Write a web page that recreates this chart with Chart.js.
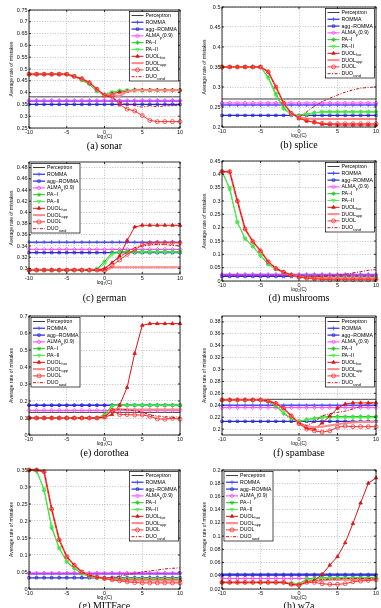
<!DOCTYPE html>
<html>
<head>
<meta charset="utf-8">
<script src="https://cdn.jsdelivr.net/npm/chart.js@4.4.1/dist/chart.umd.min.js"></script>
<style>
html, body { margin: 0; padding: 0; background: #fff; }
body { width: 381px; height: 608px; position: relative; overflow: hidden; }
canvas { position: absolute; }
.cap { position: absolute; font-family: 'Liberation Serif', 'Times New Roman', serif; font-size: 10px; color: #000;
       white-space: nowrap; transform: translate(-50%, -50%); }
</style>
</head>
<body>
<script>
// ---- x positions (log2 C) and tick labels ----
const logC = [-10,-9,-8,-7,-6,-5,-4,-3,-2,-1,0,1,2,3,4,5,6,7,8,9,10];
const xTicks = [-10,-5,0,5,10];

const seriesNames = ['Perceptron','ROMMA','agg\u2212ROMMA','ALMA','PA\u2212I','PA\u2212II','DUOL','DUOL','DUOL','DUO'];
const seriesSubs  = ['','','','p','','','hor','app','','rand'];
const seriesTail  = ['','','','(0.9)','','','','','',''];

// ---- (a) sonar ----
const sonarTicks = [0.25,0.3,0.35,0.4,0.45,0.5,0.55,0.6,0.65,0.7,0.75];
const sonarPerceptron = [0.382,0.382,0.382,0.382,0.382,0.382,0.382,0.382,0.382,0.382,0.382,0.382,0.382,0.382,0.382,0.382,0.382,0.382,0.382,0.382,0.382];
const sonarRomma      = [0.364,0.364,0.364,0.364,0.364,0.364,0.364,0.364,0.364,0.364,0.364,0.364,0.364,0.364,0.364,0.364,0.364,0.364,0.364,0.364,0.364];
const sonarAggRomma   = [0.350,0.350,0.350,0.350,0.350,0.350,0.350,0.350,0.350,0.350,0.350,0.350,0.350,0.350,0.350,0.350,0.350,0.350,0.350,0.350,0.350];
const sonarAlma       = [0.367,0.367,0.367,0.367,0.367,0.367,0.367,0.367,0.367,0.367,0.367,0.367,0.367,0.367,0.367,0.367,0.367,0.367,0.367,0.367,0.367];
const sonarPA1  = [0.478,0.478,0.478,0.478,0.478,0.478,0.470,0.452,0.435,0.405,0.392,0.402,0.408,0.410,0.410,0.410,0.410,0.410,0.410,0.410,0.410];
const sonarPA2  = [0.478,0.478,0.478,0.478,0.478,0.478,0.472,0.455,0.438,0.408,0.392,0.400,0.407,0.410,0.410,0.410,0.410,0.410,0.410,0.410,0.410];
const sonarHor  = [0.478,0.478,0.478,0.478,0.478,0.478,0.468,0.460,0.443,0.415,0.388,0.395,0.402,0.405,0.412,0.411,0.411,0.411,0.411,0.411,0.411];
const sonarApp  = [0.478,0.478,0.478,0.478,0.478,0.478,0.468,0.458,0.442,0.414,0.388,0.392,0.385,0.405,0.410,0.410,0.410,0.410,0.410,0.410,0.410];
const sonarDuol = [0.478,0.478,0.478,0.478,0.478,0.478,0.468,0.458,0.442,0.414,0.388,0.385,0.350,0.330,0.322,0.303,0.282,0.277,0.277,0.277,0.277];
const sonarRand = [0.478,0.478,0.478,0.478,0.478,0.478,0.468,0.458,0.442,0.414,0.388,0.378,0.360,0.350,0.345,0.338,0.345,0.340,0.344,0.345,0.345];

// ---- (b) splice ----
const spliceTicks = [0.2,0.25,0.3,0.35,0.4,0.45,0.5];
const splicePerceptron = [0.270,0.270,0.270,0.270,0.270,0.270,0.270,0.270,0.270,0.270,0.270,0.270,0.270,0.270,0.270,0.270,0.270,0.270,0.270,0.270,0.270];
const spliceRomma      = [0.255,0.255,0.255,0.255,0.255,0.255,0.255,0.255,0.255,0.255,0.255,0.255,0.255,0.255,0.255,0.255,0.255,0.255,0.255,0.255,0.255];
const spliceAggRomma   = [0.229,0.229,0.229,0.229,0.229,0.229,0.229,0.229,0.229,0.229,0.229,0.229,0.229,0.229,0.229,0.229,0.229,0.229,0.229,0.229,0.229];
const spliceAlma       = [0.260,0.260,0.260,0.260,0.260,0.260,0.260,0.260,0.260,0.260,0.260,0.260,0.260,0.260,0.260,0.260,0.260,0.260,0.260,0.260,0.260];
const splicePA1  = [0.350,0.350,0.350,0.350,0.350,0.350,0.325,0.283,0.248,0.232,0.228,0.232,0.236,0.238,0.238,0.238,0.238,0.238,0.238,0.238,0.238];
const splicePA2  = [0.350,0.350,0.350,0.350,0.350,0.350,0.322,0.278,0.245,0.230,0.228,0.231,0.235,0.237,0.237,0.237,0.237,0.237,0.237,0.237,0.237];
const spliceHor  = [0.350,0.350,0.350,0.350,0.350,0.350,0.338,0.300,0.260,0.234,0.222,0.215,0.212,0.207,0.206,0.205,0.205,0.205,0.205,0.205,0.205];
const spliceApp  = [0.350,0.350,0.350,0.350,0.350,0.350,0.338,0.300,0.260,0.234,0.224,0.221,0.220,0.220,0.220,0.220,0.220,0.220,0.220,0.220,0.220];
const spliceDuol = [0.350,0.350,0.350,0.350,0.350,0.350,0.338,0.300,0.260,0.234,0.222,0.216,0.212,0.209,0.208,0.208,0.208,0.208,0.208,0.208,0.208];
const spliceRand = [0.350,0.350,0.350,0.350,0.350,0.350,0.338,0.300,0.260,0.234,0.225,0.238,0.252,0.263,0.272,0.280,0.287,0.293,0.297,0.299,0.300];

// ---- (c) german ----
const germanTicks = [0.3,0.32,0.34,0.36,0.38,0.4,0.42,0.44,0.46,0.48];
const germanPerceptron = [0.346,0.346,0.346,0.346,0.346,0.346,0.346,0.346,0.346,0.346,0.346,0.346,0.346,0.346,0.346,0.346,0.346,0.346,0.346,0.346,0.346];
const germanRomma      = [0.347,0.347,0.347,0.347,0.347,0.347,0.347,0.347,0.347,0.347,0.347,0.347,0.347,0.347,0.347,0.347,0.347,0.347,0.347,0.347,0.347];
const germanAggRomma   = [0.328,0.328,0.328,0.328,0.328,0.328,0.328,0.328,0.328,0.328,0.328,0.328,0.328,0.328,0.328,0.328,0.328,0.328,0.328,0.328,0.328];
const germanAlma       = [0.334,0.334,0.334,0.334,0.334,0.334,0.334,0.334,0.334,0.334,0.334,0.334,0.334,0.334,0.334,0.334,0.334,0.334,0.334,0.334,0.334];
const germanPA1  = [0.297,0.297,0.297,0.297,0.297,0.297,0.297,0.297,0.297,0.299,0.312,0.328,0.330,0.330,0.330,0.330,0.330,0.330,0.330,0.330,0.330];
const germanPA2  = [0.297,0.297,0.297,0.297,0.297,0.297,0.297,0.297,0.297,0.298,0.308,0.325,0.329,0.329,0.329,0.329,0.329,0.329,0.329,0.329,0.329];
const germanHor  = [0.297,0.297,0.297,0.297,0.297,0.297,0.297,0.297,0.297,0.297,0.300,0.310,0.322,0.350,0.374,0.377,0.377,0.377,0.377,0.377,0.377];
const germanApp  = [0.297,0.297,0.297,0.297,0.297,0.297,0.297,0.297,0.297,0.297,0.295,0.302,0.302,0.302,0.302,0.302,0.302,0.302,0.302,0.302,0.302];
const germanDuol = [0.297,0.297,0.297,0.297,0.297,0.297,0.297,0.297,0.297,0.297,0.296,0.305,0.315,0.325,0.333,0.342,0.345,0.346,0.346,0.346,0.346];
const germanRand = [0.297,0.297,0.297,0.297,0.297,0.297,0.297,0.297,0.297,0.297,0.298,0.310,0.320,0.330,0.337,0.340,0.342,0.343,0.343,0.341,0.340];

// ---- (d) mushrooms ----
const mushTicks = [0,0.05,0.1,0.15,0.2,0.25,0.3,0.35,0.4,0.45];
const mushPerceptron = [0.020,0.020,0.020,0.020,0.020,0.020,0.020,0.020,0.020,0.020,0.020,0.020,0.020,0.020,0.020,0.020,0.020,0.020,0.020,0.020,0.020];
const mushRomma      = [0.025,0.025,0.025,0.025,0.025,0.025,0.025,0.025,0.025,0.025,0.025,0.025,0.025,0.025,0.025,0.025,0.025,0.025,0.025,0.025,0.025];
const mushAggRomma   = [0.017,0.017,0.017,0.017,0.017,0.017,0.017,0.017,0.017,0.017,0.017,0.017,0.017,0.017,0.017,0.017,0.017,0.017,0.017,0.017,0.017];
const mushAlma       = [0.023,0.023,0.023,0.023,0.023,0.023,0.023,0.023,0.023,0.023,0.023,0.023,0.023,0.023,0.023,0.023,0.023,0.023,0.023,0.023,0.023];
const mushPA1  = [0.410,0.345,0.220,0.158,0.130,0.095,0.062,0.044,0.032,0.022,0.016,0.014,0.013,0.013,0.013,0.013,0.013,0.013,0.013,0.013,0.013];
const mushPA2  = [0.410,0.350,0.222,0.160,0.132,0.097,0.064,0.045,0.033,0.023,0.016,0.015,0.014,0.014,0.014,0.014,0.014,0.014,0.014,0.014,0.014];
const mushHor  = [0.410,0.410,0.300,0.195,0.148,0.113,0.072,0.047,0.033,0.022,0.015,0.012,0.010,0.010,0.010,0.010,0.010,0.010,0.010,0.010,0.010];
const mushApp  = [0.410,0.410,0.300,0.195,0.148,0.113,0.072,0.047,0.033,0.022,0.015,0.013,0.012,0.012,0.012,0.012,0.012,0.012,0.012,0.012,0.012];
const mushDuol = [0.410,0.410,0.300,0.195,0.148,0.113,0.072,0.047,0.033,0.022,0.015,0.011,0.008,0.006,0.005,0.005,0.005,0.005,0.005,0.005,0.005];
const mushRand = [0.410,0.410,0.300,0.195,0.148,0.113,0.072,0.047,0.033,0.022,0.015,0.015,0.016,0.018,0.020,0.022,0.025,0.030,0.035,0.040,0.042];

// ---- (e) dorothea ----
const doroTicks = [0,0.1,0.2,0.3,0.4,0.5,0.6,0.7];
const doroPerceptron = [0.133,0.133,0.133,0.133,0.133,0.133,0.133,0.133,0.133,0.133,0.133,0.133,0.133,0.133,0.133,0.133,0.133,0.133,0.133,0.133,0.133];
const doroRomma      = [0.175,0.175,0.175,0.175,0.175,0.175,0.175,0.175,0.175,0.175,0.175,0.175,0.175,0.175,0.175,0.175,0.175,0.175,0.175,0.175,0.175];
const doroAggRomma   = [0.175,0.175,0.175,0.175,0.175,0.175,0.175,0.175,0.175,0.175,0.175,0.175,0.175,0.175,0.175,0.175,0.175,0.175,0.175,0.175,0.175];
const doroAlma       = [0.145,0.145,0.145,0.145,0.145,0.145,0.145,0.145,0.145,0.145,0.145,0.145,0.145,0.145,0.145,0.145,0.145,0.145,0.145,0.145,0.145];
const doroPA1  = [0.100,0.100,0.100,0.100,0.100,0.100,0.100,0.100,0.100,0.100,0.120,0.175,0.175,0.175,0.175,0.175,0.175,0.175,0.175,0.175,0.175];
const doroPA2  = [0.100,0.100,0.100,0.100,0.100,0.100,0.100,0.100,0.100,0.100,0.115,0.170,0.175,0.175,0.175,0.175,0.175,0.175,0.175,0.175,0.175];
const doroHor  = [0.100,0.100,0.100,0.100,0.100,0.100,0.100,0.100,0.100,0.100,0.105,0.120,0.175,0.280,0.480,0.645,0.655,0.655,0.655,0.655,0.655];
const doroApp  = [0.100,0.100,0.100,0.100,0.100,0.100,0.100,0.100,0.100,0.100,0.105,0.150,0.152,0.150,0.150,0.150,0.150,0.150,0.150,0.150,0.150];
const doroDuol = [0.100,0.100,0.100,0.100,0.100,0.100,0.100,0.100,0.100,0.100,0.105,0.145,0.120,0.120,0.118,0.118,0.110,0.095,0.093,0.098,0.093];
const doroRand = [0.100,0.100,0.100,0.100,0.100,0.100,0.100,0.100,0.100,0.100,0.105,0.150,0.152,0.148,0.143,0.135,0.118,0.112,0.108,0.102,0.108];

// ---- (f) spambase ----
const spamTicks = [0.2,0.22,0.24,0.26,0.28,0.3,0.32,0.34,0.36,0.38];
const spamPerceptron = [0.250,0.250,0.250,0.250,0.250,0.250,0.250,0.250,0.250,0.250,0.250,0.250,0.250,0.250,0.250,0.250,0.250,0.250,0.250,0.250,0.250];
const spamRomma      = [0.240,0.240,0.240,0.240,0.240,0.240,0.240,0.240,0.240,0.240,0.240,0.240,0.240,0.240,0.240,0.240,0.240,0.240,0.240,0.240,0.240];
const spamAggRomma   = [0.213,0.213,0.213,0.213,0.213,0.213,0.213,0.213,0.213,0.213,0.213,0.213,0.213,0.213,0.213,0.213,0.213,0.213,0.213,0.213,0.213];
const spamAlma       = [0.236,0.236,0.236,0.236,0.236,0.236,0.236,0.236,0.236,0.236,0.236,0.236,0.236,0.236,0.236,0.236,0.236,0.236,0.236,0.236,0.236];
const spamPA1  = [0.248,0.248,0.248,0.248,0.248,0.248,0.246,0.238,0.226,0.217,0.213,0.216,0.218,0.220,0.221,0.221,0.221,0.221,0.221,0.221,0.221];
const spamPA2  = [0.248,0.248,0.248,0.248,0.248,0.248,0.247,0.240,0.228,0.218,0.213,0.215,0.217,0.219,0.219,0.219,0.219,0.219,0.219,0.219,0.219];
const spamHor  = [0.249,0.249,0.249,0.249,0.249,0.249,0.247,0.243,0.235,0.222,0.210,0.202,0.200,0.210,0.222,0.235,0.242,0.244,0.244,0.244,0.244];
const spamApp  = [0.249,0.249,0.249,0.249,0.249,0.249,0.247,0.243,0.235,0.222,0.210,0.205,0.203,0.204,0.206,0.208,0.210,0.211,0.212,0.212,0.212];
const spamDuol = [0.249,0.249,0.249,0.249,0.249,0.249,0.247,0.243,0.235,0.222,0.209,0.200,0.197,0.195,0.197,0.203,0.205,0.204,0.204,0.204,0.204];
const spamRand = [0.249,0.249,0.249,0.249,0.249,0.249,0.247,0.243,0.235,0.222,0.210,0.206,0.212,0.222,0.226,0.228,0.230,0.234,0.238,0.242,0.246];

// ---- (g) MITFace ----
const mitTicks = [0,0.05,0.1,0.15,0.2,0.25,0.3,0.35];
const mitPerceptron = [0.045,0.045,0.045,0.045,0.045,0.045,0.045,0.045,0.045,0.045,0.045,0.045,0.045,0.045,0.045,0.045,0.045,0.045,0.045,0.045,0.045];
const mitRomma      = [0.045,0.045,0.045,0.045,0.045,0.045,0.045,0.045,0.045,0.045,0.045,0.045,0.045,0.045,0.045,0.045,0.045,0.045,0.045,0.045,0.045];
const mitAggRomma   = [0.033,0.033,0.033,0.033,0.033,0.033,0.033,0.033,0.033,0.033,0.033,0.033,0.033,0.033,0.033,0.033,0.033,0.033,0.033,0.033,0.033];
const mitAlma       = [0.047,0.047,0.047,0.047,0.047,0.047,0.047,0.047,0.047,0.047,0.047,0.047,0.047,0.047,0.047,0.047,0.047,0.047,0.047,0.047,0.047];
const mitPA1  = [0.350,0.350,0.290,0.180,0.120,0.080,0.060,0.045,0.036,0.033,0.030,0.030,0.030,0.030,0.030,0.030,0.030,0.030,0.030,0.030,0.030];
const mitPA2  = [0.350,0.345,0.295,0.185,0.122,0.082,0.062,0.046,0.036,0.033,0.031,0.031,0.031,0.031,0.031,0.031,0.031,0.031,0.031,0.031,0.031];
const mitHor  = [0.350,0.350,0.345,0.235,0.145,0.095,0.070,0.050,0.040,0.035,0.032,0.030,0.028,0.027,0.027,0.027,0.027,0.027,0.027,0.027,0.027];
const mitApp  = [0.350,0.350,0.345,0.235,0.145,0.095,0.070,0.050,0.040,0.035,0.032,0.028,0.026,0.025,0.025,0.025,0.025,0.025,0.025,0.025,0.025];
const mitDuol = [0.350,0.350,0.345,0.235,0.145,0.095,0.070,0.050,0.040,0.035,0.031,0.027,0.024,0.021,0.019,0.018,0.018,0.018,0.018,0.018,0.018];
const mitRand = [0.350,0.350,0.345,0.235,0.145,0.095,0.070,0.050,0.040,0.035,0.032,0.034,0.038,0.042,0.046,0.050,0.053,0.056,0.059,0.061,0.062];

// ---- (h) w7a ----
const w7aTicks = [0.02,0.04,0.06,0.08,0.1,0.12,0.14,0.16,0.18,0.2];
const w7aPerceptron = [0.0425,0.0425,0.0425,0.0425,0.0425,0.0425,0.0425,0.0425,0.0425,0.0425,0.0425,0.0425,0.0425,0.0425,0.0425,0.0425,0.0425,0.0425,0.0425,0.0425,0.0425];
const w7aRomma      = [0.042,0.042,0.042,0.042,0.042,0.042,0.042,0.042,0.042,0.042,0.042,0.042,0.042,0.042,0.042,0.042,0.042,0.042,0.042,0.042,0.042];
const w7aAggRomma   = [0.041,0.041,0.041,0.041,0.041,0.041,0.041,0.041,0.041,0.041,0.041,0.041,0.041,0.041,0.041,0.041,0.041,0.041,0.041,0.041,0.041];
const w7aAlma       = [0.036,0.036,0.036,0.036,0.036,0.036,0.036,0.036,0.036,0.036,0.036,0.036,0.036,0.036,0.036,0.036,0.036,0.036,0.036,0.036,0.036];
const w7aPA1  = [0.030,0.030,0.030,0.030,0.030,0.030,0.030,0.030,0.030,0.029,0.028,0.035,0.036,0.037,0.037,0.037,0.037,0.037,0.037,0.037,0.037];
const w7aPA2  = [0.030,0.030,0.030,0.030,0.030,0.030,0.030,0.030,0.030,0.029,0.027,0.034,0.035,0.036,0.036,0.036,0.036,0.036,0.036,0.036,0.036];
const w7aHor  = [0.030,0.030,0.030,0.030,0.030,0.030,0.030,0.030,0.030,0.027,0.026,0.031,0.033,0.042,0.056,0.069,0.090,0.119,0.150,0.180,0.188];
const w7aApp  = [0.030,0.030,0.030,0.030,0.030,0.030,0.030,0.030,0.030,0.027,0.026,0.030,0.032,0.033,0.034,0.034,0.034,0.034,0.034,0.034,0.034];
const w7aDuol = [0.030,0.030,0.030,0.030,0.030,0.030,0.030,0.030,0.030,0.027,0.026,0.030,0.030,0.028,0.027,0.027,0.028,0.031,0.032,0.033,0.034];
const w7aRand = [0.030,0.030,0.030,0.030,0.030,0.030,0.030,0.030,0.030,0.027,0.026,0.031,0.033,0.034,0.035,0.035,0.036,0.036,0.036,0.036,0.036];

// line / marker look of each series (same order as seriesNames)
const seriesStyle = [
  { color: '#3c3c3c', width: 1,   point: false },
  { color: '#4a4aff', width: 1.4, point: 'cross', r: 2 },
  { color: '#2727d6', width: 1.2, point: 'rect', r: 1.7 },
  { color: '#ff3cff', width: 1,   point: 'rectRot', r: 2 },
  { color: '#1ec81e', width: 1,   point: 'star', r: 2.2 },
  { color: '#4cf04c', width: 1,   point: 'triangle', rot: 180, r: 2 },
  { color: '#dc1414', width: 1,   point: 'triangle', r: 2, fill: true },
  { color: '#ff8a8a', width: 2,   point: 'crossRot', r: 1.5 },
  { color: '#ff3030', width: 1,   point: 'circle', r: 2 },
  { color: '#d01010', width: 1,   point: false, dash: [3, 1.5, 1, 1.5] }
];

const panels = [
  { cap: '(a) sonar',     box: [29, 10, 180, 128],  capY: 144.5, yMin: 0.25, yMax: 0.75, ticks: sonarTicks,  legend: 'ne',
    series: [sonarPerceptron, sonarRomma, sonarAggRomma, sonarAlma, sonarPA1, sonarPA2, sonarHor, sonarApp, sonarDuol, sonarRand] },
  { cap: '(b) splice',    box: [222, 7, 376, 127],  capY: 144,   yMin: 0.2,  yMax: 0.5,  ticks: spliceTicks, legend: 'ne',
    series: [splicePerceptron, spliceRomma, spliceAggRomma, spliceAlma, splicePA1, splicePA2, spliceHor, spliceApp, spliceDuol, spliceRand] },
  { cap: '(c) german',    box: [29, 162, 180, 274], capY: 296.5, yMin: 0.29, yMax: 0.49, ticks: germanTicks, legend: 'nw',
    series: [germanPerceptron, germanRomma, germanAggRomma, germanAlma, germanPA1, germanPA2, germanHor, germanApp, germanDuol, germanRand] },
  { cap: '(d) mushrooms', box: [222, 161, 376, 281], capY: 296.5, yMin: 0, yMax: 0.45, ticks: mushTicks, legend: 'ne',
    series: [mushPerceptron, mushRomma, mushAggRomma, mushAlma, mushPA1, mushPA2, mushHor, mushApp, mushDuol, mushRand] },
  { cap: '(e) dorothea',  box: [29, 316, 180, 435], capY: 452, yMin: 0, yMax: 0.7, ticks: doroTicks, legend: 'nw',
    series: [doroPerceptron, doroRomma, doroAggRomma, doroAlma, doroPA1, doroPA2, doroHor, doroApp, doroDuol, doroRand] },
  { cap: '(f) spambase',  box: [222, 316, 376, 435], capY: 452, yMin: 0.19, yMax: 0.39, ticks: spamTicks, legend: 'ne',
    series: [spamPerceptron, spamRomma, spamAggRomma, spamAlma, spamPA1, spamPA2, spamHor, spamApp, spamDuol, spamRand] },
  { cap: '(g) MITFace',   box: [29, 470, 180, 589], capY: 604.5, yMin: 0, yMax: 0.35, ticks: mitTicks, legend: 'ne',
    series: [mitPerceptron, mitRomma, mitAggRomma, mitAlma, mitPA1, mitPA2, mitHor, mitApp, mitDuol, mitRand] },
  { cap: '(h) w7a',       box: [222, 470, 376, 589], capY: 604.5, yMin: 0.02, yMax: 0.2, ticks: w7aTicks, legend: 'nw',
    series: [w7aPerceptron, w7aRomma, w7aAggRomma, w7aAlma, w7aPA1, w7aPA2, w7aHor, w7aApp, w7aDuol, w7aRand] }
];

const YW = 20, XH = 12, PT = 6, PR = 6;
const tickFont = { family: "'Liberation Sans', Arial, sans-serif", size: 5.5 };
const fmt = v => String(+(+v).toFixed(4));

function drawMarker(ctx, st, x, y){
  if (!st.point) return;
  ctx.save();
  ctx.setLineDash([]);
  ctx.lineWidth = 0.8;
  ctx.strokeStyle = st.color;
  ctx.fillStyle = st.fill ? st.color : 'rgba(0,0,0,0)';
  if (Chart.helpers && Chart.helpers.drawPoint){
    Chart.helpers.drawPoint(ctx, { pointStyle: st.point, rotation: st.rot || 0, radius: st.r, borderWidth: 0.8 }, x, y);
  } else {
    ctx.beginPath(); ctx.arc(x, y, st.r, 0, Math.PI * 2); ctx.fill(); ctx.stroke();
  }
  ctx.restore();
}

// black box round the plot area, with small inward ticks like the original
const framePlugin = {
  id: 'frame',
  afterDatasetsDraw(chart){
    const { ctx, chartArea: a, scales } = chart;
    ctx.save();
    ctx.strokeStyle = '#000';
    ctx.lineWidth = 0.8;
    ctx.setLineDash([]);
    ctx.beginPath();
    scales.x.ticks.forEach(t => {
      const px = scales.x.getPixelForValue(t.value);
      ctx.moveTo(px, a.bottom); ctx.lineTo(px, a.bottom - 2);
      ctx.moveTo(px, a.top); ctx.lineTo(px, a.top + 2);
    });
    scales.y.ticks.forEach(t => {
      const py = scales.y.getPixelForValue(t.value);
      ctx.moveTo(a.left, py); ctx.lineTo(a.left + 2, py);
      ctx.moveTo(a.right, py); ctx.lineTo(a.right - 2, py);
    });
    ctx.stroke();
    ctx.strokeRect(a.left, a.top, a.right - a.left, a.bottom - a.top);
    ctx.restore();
  }
};

// MATLAB-style legend box inside the axes
const boxLegend = {
  id: 'boxLegend',
  afterDraw(chart, args, opts){
    const { ctx, chartArea: a } = chart;
    const w = 49, rowH = 6.8, h = rowH * 10 + 1.5;
    const x0 = opts.corner === 'nw' ? a.left + 2 : a.right - w - 1.5;
    const y0 = a.top + 1.5;
    ctx.save();
    ctx.fillStyle = '#fff';
    ctx.fillRect(x0, y0, w, h);
    ctx.strokeStyle = '#000';
    ctx.lineWidth = 0.7;
    ctx.strokeRect(x0, y0, w, h);
    seriesStyle.forEach((st, i) => {
      const y = y0 + 4 + i * rowH;
      ctx.strokeStyle = st.color;
      ctx.lineWidth = st.width;
      ctx.setLineDash(st.dash || []);
      ctx.beginPath(); ctx.moveTo(x0 + 2, y); ctx.lineTo(x0 + 14, y); ctx.stroke();
      drawMarker(ctx, st, x0 + 8, y);
      ctx.setLineDash([]);
      ctx.fillStyle = '#000';
      ctx.textBaseline = 'middle';
      ctx.font = "5.2px 'Liberation Sans', Arial, sans-serif";
      let tx = x0 + 16;
      ctx.fillText(seriesNames[i], tx, y);
      tx += ctx.measureText(seriesNames[i]).width;
      if (seriesSubs[i]){
        ctx.font = "3.8px 'Liberation Sans', Arial, sans-serif";
        ctx.fillText(seriesSubs[i], tx + 0.2, y + 1.8);
        tx += ctx.measureText(seriesSubs[i]).width + 0.4;
        ctx.font = "5.2px 'Liberation Sans', Arial, sans-serif";
      }
      if (seriesTail[i]) ctx.fillText(seriesTail[i], tx, y);
    });
    ctx.restore();
  }
};

function makeDataset(ys, i){
  const st = seriesStyle[i];
  return {
    label: seriesNames[i] + seriesSubs[i],
    data: logC.map((x, j) => ({ x: x, y: ys[j] })),
    borderColor: st.color,
    borderWidth: st.width,
    borderDash: st.dash || [],
    pointStyle: st.point || 'circle',
    pointRadius: st.point ? st.r : 0,
    pointRotation: st.rot || 0,
    pointBorderWidth: 0.8,
    pointBorderColor: st.color,
    pointBackgroundColor: st.fill ? st.color : 'rgba(0,0,0,0)',
    tension: 0,
    fill: false,
    clip: 4,
    order: -i
  };
}

function makePanel(p){
  const [l, t, r, b] = p.box;
  const w = r - l + YW + PR, h = b - t + PT + XH;
  const cv = document.createElement('canvas');
  cv.width = w; cv.height = h;
  cv.style.left = (l - YW) + 'px';
  cv.style.top = (t - PT) + 'px';
  cv.style.width = w + 'px';
  cv.style.height = h + 'px';
  document.body.appendChild(cv);

  const cap = document.createElement('div');
  cap.className = 'cap';
  cap.textContent = p.cap;
  cap.style.left = ((l + r) / 2) + 'px';
  cap.style.top = p.capY + 'px';
  document.body.appendChild(cap);

  const gridOpts = { color: '#9a9a9a', lineWidth: 0.6, drawTicks: false };
  const borderOpts = { display: false, dash: [1, 1.6] };

  new Chart(cv, {
    type: 'line',
    data: { datasets: p.series.map(makeDataset) },
    options: {
      responsive: false,
      animation: false,
      devicePixelRatio: 1,
      layout: { padding: { left: 0, top: PT, right: PR, bottom: 0 }, autoPadding: false },
      plugins: { legend: { display: false }, tooltip: { enabled: false }, boxLegend: { corner: p.legend } },
      scales: {
        x: {
          type: 'linear', min: -10, max: 10,
          afterBuildTicks: s => { s.ticks = xTicks.map(v => ({ value: v })); },
          afterFit: s => { s.height = XH; s.paddingLeft = 0; s.paddingRight = 0; },
          grid: gridOpts, border: borderOpts,
          ticks: { font: tickFont, color: '#111', padding: 1.5, maxRotation: 0, autoSkip: false, callback: fmt },
          title: { display: true, text: 'log\u2082(C)', font: { family: tickFont.family, size: 5 }, color: '#111', padding: 0 }
        },
        y: {
          type: 'linear', min: p.yMin, max: p.yMax,
          afterBuildTicks: s => { s.ticks = p.ticks.map(v => ({ value: v })); },
          afterFit: s => { s.width = YW; s.paddingTop = 0; s.paddingBottom = 0; },
          grid: gridOpts, border: borderOpts,
          ticks: { font: tickFont, color: '#111', padding: 1.5, autoSkip: false, callback: fmt },
          title: { display: true, text: 'Average rate of mistakes', font: { family: tickFont.family, size: 5 }, color: '#111', padding: 0 }
        }
      }
    },
    plugins: [framePlugin, boxLegend]
  });
}

panels.forEach(makePanel);
</script>
</body>
</html>
